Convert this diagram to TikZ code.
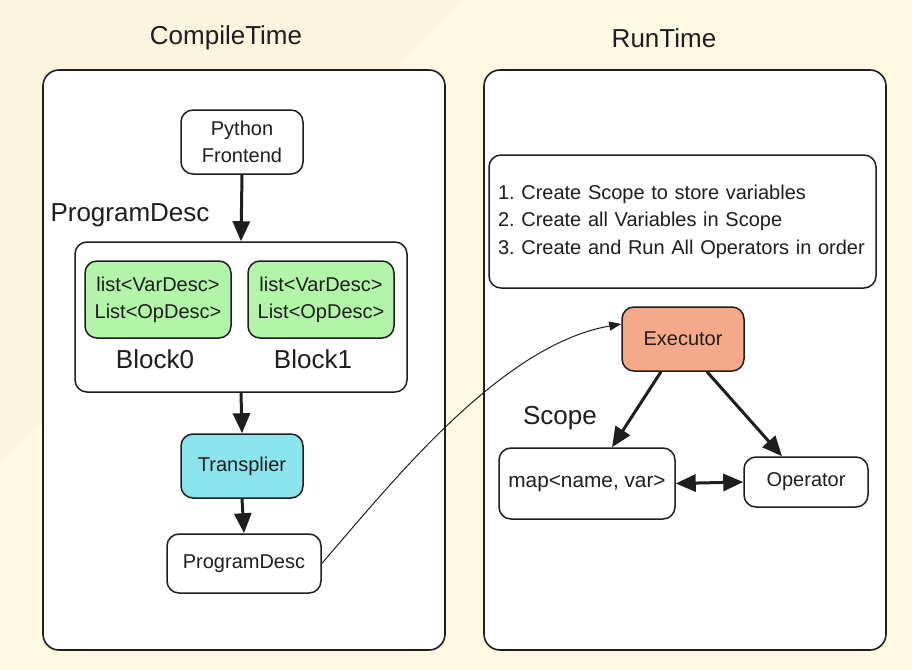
\documentclass[tikz,border=0pt]{standalone}
\usepackage{fontspec}
\setmainfont{Liberation Sans}
\usetikzlibrary{arrows.meta}
\definecolor{bgLight}{HTML}{FFF8E3}
\definecolor{bgDark}{HTML}{FBF4DF}
\definecolor{cGreen}{HTML}{B2F5A9}
\definecolor{cCyan}{HTML}{8BE4EC}
\definecolor{cSalmon}{HTML}{F5A98B}
\definecolor{cLine}{HTML}{1E1E1E}

\begin{document}
\begin{tikzpicture}[x=0.5pt,y=-0.5pt,>={Triangle[length=10pt,width=8.5pt]}]
		\tikzstyle{BOX} = [draw=cLine, line width=0.75pt, rounded corners=6pt, align=center, inner sep=0pt, text=cLine, font=\fontsize{10}{13.5}\selectfont\frenchspacing]
		\tikzstyle{PANEL} = [draw=cLine, line width=0.8pt, rounded corners=8pt, fill=white, minimum width=201pt, minimum height=290pt]
		\tikzstyle{plain} = [BOX, fill=white]
		\tikzstyle{block} = [BOX, fill=cGreen, minimum width=73pt, minimum height=38.5pt]
		\tikzstyle{trans} = [BOX, fill=cCyan, minimum width=61pt, minimum height=32pt]
		\tikzstyle{exec} = [BOX, fill=cSalmon, minimum width=61pt, minimum height=32pt]
		\tikzstyle{heading} = [text=cLine, font=\fontsize{13}{15}\selectfont]
		\tikzstyle{flow} = [->, line width=1.5pt, draw=cLine]

		% background
		\useasboundingbox (0,0) rectangle (912,670);
		\fill[bgLight] (0,0) rectangle (912,670);
		\fill[bgDark] (0,0) -- (465,0) -- (0,465) -- cycle;

		% compile time
		\node[heading] (tCompile) at	(226, 38) {CompileTime};
		\node[PANEL] (pCompile) at		(244, 360) {};
		\node[plain, minimum width=61pt, minimum height=32pt] (pyFront) at (242, 142) {Python\\Frontend};
		\node[heading] (lProg) at		(130, 215) {ProgramDesc};
		\node[plain, minimum width=166pt, minimum height=75pt] (progBox) at (241, 317) {};
		\node[block] (blkZero) at		(158, 299.5) {list<VarDesc>\\List<OpDesc>};
		\node[block] (blkOne) at		(321, 299.5) {list<VarDesc>\\List<OpDesc>};
		\node[heading] (lZero) at		(155, 359) {Block0};
		\node[heading] (lOne) at		(313, 359) {Block1};
		\node[trans] (transp) at		(242, 466) {Transplier};
		\node[plain, minimum width=77pt, minimum height=29.5pt] (progOut) at (244, 563.5) {ProgramDesc};
		\draw[flow] (pyFront.south) -- (progBox.north);
		\draw[flow] (progBox.south) -- (transp.north);
		\draw[flow] (transp.south) -- (progOut.north);

		% run time
		\node[heading] (tRun) at		(664, 38) {RunTime};
		\node[PANEL] (pRun) at			(685, 360) {};
		\node[plain, minimum width=193.5pt, minimum height=66.5pt, inner xsep=4.5pt, text width=184.5pt, align=left, font=\fontsize{10}{13.75}\selectfont\frenchspacing] (steps) at (682.5, 221.5) {\raisebox{-1.5pt}{\parbox{184.5pt}{1. Create Scope to store variables\\2. Create all Variables in Scope\\3. Create and Run All Operators in order}}};
		\node[exec] (exe) at			(683, 339) {Executor};
		\node[heading] (lScope) at		(560, 418) {Scope};
		\node[plain, minimum width=88pt, minimum height=35.5pt, font=\fontsize{10.4}{13.5}\selectfont] (scopeMap) at (587, 483.5) {\raisebox{-1.5pt}{map<name, var>}};
		\node[plain, minimum width=62pt, minimum height=25pt] (oper) at (806, 482) {Operator};
		\draw[flow] ([xshift=-11pt]exe.south) -- ([xshift=12.5pt]scopeMap.north);
		\draw[flow] ([xshift=12pt]exe.south) -- ([xshift=-12pt]oper.north);
		\draw[flow, <->] (scopeMap.east) -- (oper.west);

		% program handed over to the executor
		\draw[-{Triangle[length=6pt,width=4.5pt]}, line width=0.5pt, draw=cLine] (progOut.east) .. controls (390,485) and (500,345) .. ([yshift=7.5pt]exe.west);
\end{tikzpicture}
\end{document}
